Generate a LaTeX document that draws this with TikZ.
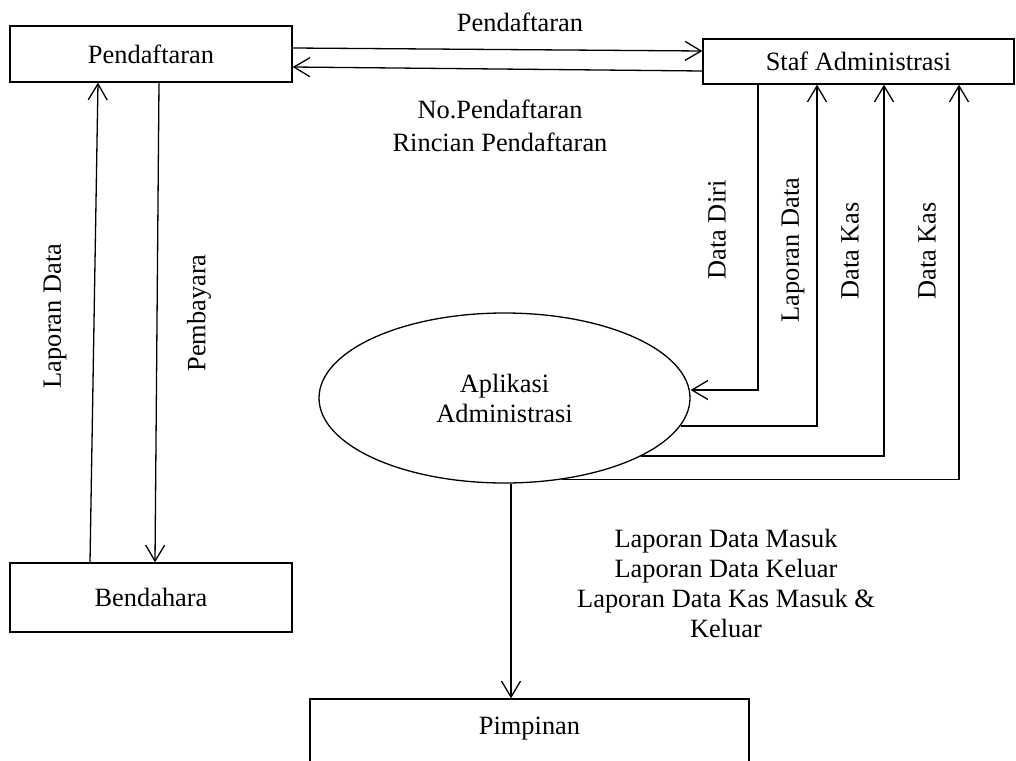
\documentclass[tikz,border=0pt]{standalone}
\usepackage{fontspec}
\setmainfont{Liberation Serif}
\usetikzlibrary{arrows.meta,shapes.geometric}

\begin{document}
\begin{tikzpicture}[x = 1pt, y = -1pt, line width = 1.3pt]
    \tikzstyle{every node} = [font = \fontsize{26.4}{30}\selectfont];
    \tikzstyle{box} = [draw, rectangle, inner sep = 0pt];
    \tikzstyle{flow} = [-{Straight Barb[length = 16pt, width = 19pt]}];
    \useasboundingbox (0,0) rectangle (1016,760);
    % entities:
    \node[box, minimum width = 282pt, minimum height = 56pt] (pendaftaran) at (151,54){Pendaftaran};
    \node[box, minimum width = 311pt, minimum height = 45pt] (staf) at (858.5,61.5){Staf Administrasi};
    \node[box, minimum width = 282pt, minimum height = 69pt] (bendahara) at (151,597.5){Bendahara};
    \node[box, minimum width = 439pt, minimum height = 80pt, text depth = 26pt] (pimpinan) at (529.5,739){Pimpinan};
    \node[draw, ellipse, minimum width = 371pt, minimum height = 170pt, inner sep = 0pt, align = center] (aplikasi) at (504.5,398){Aplikasi\\Administrasi};
    % labels:
    \node (t1) at (520,22){Pendaftaran};
    \node[align = center, font = \fontsize{26.4}{33}\selectfont] (t2) at (500,126){No.Pendaftaran\\Rincian Pendaftaran};
    \node[rotate = 90] (t3) at (55,316){Laporan Data};
    \node[rotate = 90] (t4) at (199,313){Pembayara};
    \node[rotate = 90] (t5) at (717,230){Data Diri};
    \node[rotate = 90] (t6) at (793,250){Laporan Data};
    \node[rotate = 90] (t7) at (850,251){Data Kas};
    \node[rotate = 90] (t8) at (927,251){Data Kas};
    \node[align = center] (t9) at (726,583){Laporan Data Masuk\\Laporan Data Keluar\\Laporan Data Kas Masuk \&\\Keluar};
    % lines:
    \draw[flow] ([yshift = 6pt]pendaftaran.east) -- ([yshift = 10.5pt]staf.west);
    \draw[flow] ([yshift = -9.5pt]staf.west) -- ([yshift = -13pt]pendaftaran.east);
    \draw[flow] ([xshift = -61pt]bendahara.north) -- ([xshift = -53pt]pendaftaran.south);
    \draw[flow] ([xshift = 8pt]pendaftaran.south) -- ([xshift = 4pt]bendahara.north);
    \draw[flow] ([xshift = -100.5pt]staf.south) |- ([yshift = 8pt]aplikasi.east);
    \draw[flow] (aplikasi.-9) -| ([xshift = -41.5pt]staf.south);
    \draw[flow] (aplikasi.-23) -| ([xshift = 25.5pt]staf.south);
    \draw[flow] (aplikasi.-55) -| ([xshift = 100.5pt]staf.south);
    \draw[flow] ([xshift = 6.5pt]aplikasi.south) -- ([xshift = -18.5pt]pimpinan.north);
\end{tikzpicture}
\end{document}
